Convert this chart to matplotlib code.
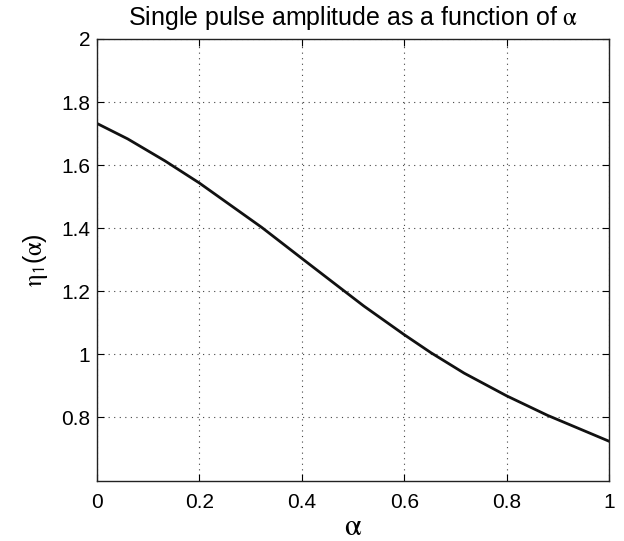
import numpy as np
import matplotlib
matplotlib.use("Agg")
import matplotlib.pyplot as plt

plt.rcParams['font.family'] = ['Liberation Sans', 'DejaVu Sans']
plt.rcParams['mathtext.fontset'] = 'stix'

# points
alpha = [0.0, 0.06, 0.133, 0.2, 0.322, 0.4, 0.456, 0.521, 0.6, 0.652, 0.717, 0.8, 0.88, 1.0]
eta1 = [1.732, 1.683, 1.613, 1.543, 1.402, 1.304, 1.234, 1.153, 1.062, 1.005, 0.940, 0.868, 0.806, 0.724]

x_ticks = [0, 0.2, 0.4, 0.6, 0.8, 1]
x_labels = ['0', '0.2', '0.4', '0.6', '0.8', '1']
y_ticks = [0.8, 1.0, 1.2, 1.4, 1.6, 1.8, 2.0]
y_labels = ['0.8', '1', '1.2', '1.4', '1.6', '1.8', '2']

fig = plt.figure(figsize=(6.24, 5.41), dpi=100)
ax = fig.add_axes([0.1554, 0.111, 0.8206, 0.817])

ax.plot(alpha, eta1, color='#111111', linewidth=2.0, solid_joinstyle='round')

ax.set_xlim(0, 1)
ax.set_ylim(0.598, 2)
ax.set_xticks(x_ticks)
ax.set_xticklabels(x_labels)
ax.set_yticks(y_ticks)
ax.set_yticklabels(y_labels)

ax.grid(True, linestyle=(0, (1, 4)), color='#444444', linewidth=0.8)
ax.tick_params(direction='in', top=True, right=True, length=5, width=0.8,
               labelsize=15)
ax.tick_params(axis='x', pad=9)
ax.tick_params(axis='y', pad=5)
for s in ax.spines.values():
    s.set_linewidth(1.0)
    s.set_color('#222222')

ax.set_title(r'Single pulse amplitude as a function of $\mathrm{\alpha}$',
             fontsize=18, pad=10)
ax.set_xlabel(r'$\mathrm{\alpha}$', fontsize=22, labelpad=0)
ax.set_ylabel(r'$\mathrm{\eta}_\mathsf{1}$($\mathrm{\alpha}$)', fontsize=18, labelpad=8)

fig.savefig('out.png', dpi=100)
